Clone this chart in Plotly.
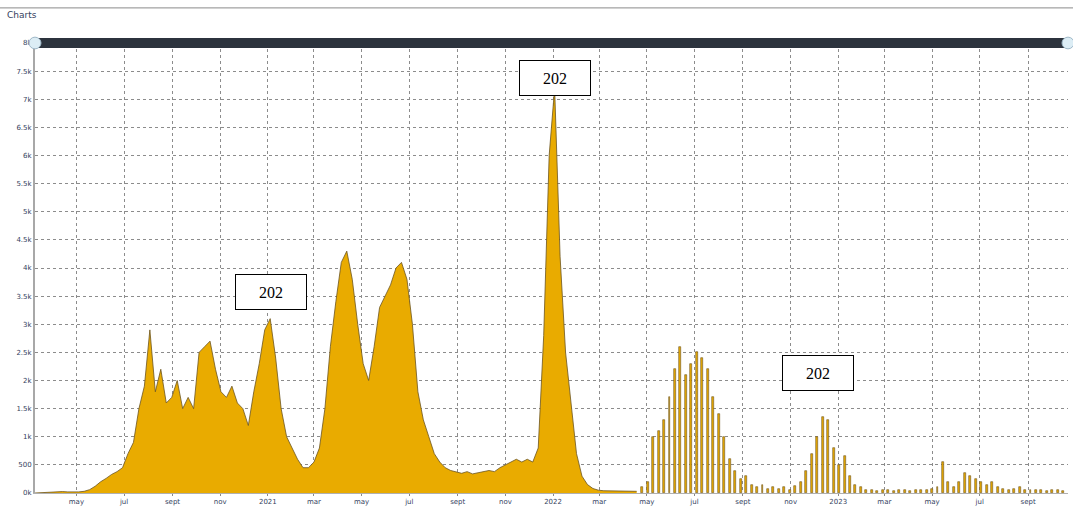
import pandas as pd
import plotly.graph_objects as go

# weekly values, continuous period (starts 2020-03-09)
wave_start = "2020-03-09"
wave_values = [
    0, 5, 10, 20, 30, 25, 20, 15, 20, 30,
    60, 120, 200, 260, 330, 380, 450, 700, 900, 1500,
    1900, 2900, 1800, 2200, 1600, 1700, 2000, 1500, 1700, 1500,
    2500, 2600, 2700, 2200, 1800, 1700, 1900, 1600, 1500, 1200,
    1800, 2300, 2900, 3100, 2400, 1500, 1000, 800, 600, 450,
    450, 550, 800, 1500, 2600, 3400, 4100, 4300, 3800, 3000,
    2300, 2000, 2600, 3300, 3500, 3700, 4000, 4100, 3800, 3000,
    1800, 1300, 1000, 700, 550, 450, 400, 380, 350, 380,
    340, 360, 380, 400, 380, 450, 500, 550, 600, 550,
    600, 550, 800, 2800, 6000, 7200, 4200, 2500, 1600, 700,
    300, 150, 80, 50, 40, 40, 30, 30, 30, 30, 30,
]

# weekly reports afterwards (starts 2022-04-25)
report_start = "2022-04-25"
report_values = [
    100, 200, 1000, 1100, 1300, 1700, 2200, 2600, 2100, 2300,
    2500, 2400, 2200, 1700, 1400, 1000, 600, 400, 250, 300,
    150, 100, 150, 80, 100, 80, 100, 60, 120, 200,
    400, 700, 1000, 1350, 1300, 800, 500, 650, 300, 150,
    100, 60, 50, 40, 60, 50, 40, 60, 50, 40,
    50, 60, 50, 80, 100, 550, 200, 100, 200, 350,
    300, 250, 200, 150, 200, 100, 80, 60, 80, 100,
    60, 50, 60, 50, 40, 60, 50, 40,
]

x_tick_dates = [
    "2020-05-01", "2020-07-01", "2020-09-01", "2020-11-01", "2021-01-01",
    "2021-03-01", "2021-05-01", "2021-07-01", "2021-09-01", "2021-11-01",
    "2022-01-01", "2022-03-01", "2022-05-01", "2022-07-01", "2022-09-01",
    "2022-11-01", "2023-01-01", "2023-03-01", "2023-05-01", "2023-07-01",
    "2023-09-01",
]
x_tick_text = [
    "may", "jul", "sept", "nov", "2021", "mar", "may", "jul", "sept", "nov",
    "2022", "mar", "may", "jul", "sept", "nov", "2023", "mar", "may", "jul", "sept",
]
y_tick_vals = list(range(0, 8001, 500))
y_tick_text = ["0k", "500", "1k", "1.5k", "2k", "2.5k", "3k", "3.5k", "4k",
               "4.5k", "5k", "5.5k", "6k", "6.5k", "7k", "7.5k", "8k"]

# callout boxes: (date, value, text)
callouts = [
    ("2021-01-05", 3570, "202"),
    ("2022-01-04", 7380, "202"),
    ("2022-12-06", 2130, "202"),
]

GOLD = "#E9AB00"
EDGE = "#6b5420"
NAVY = "#34425e"

wave_dates = pd.date_range(wave_start, periods=len(wave_values), freq="7D")
report_dates = pd.date_range(report_start, periods=len(report_values), freq="7D")

fig = go.Figure()
fig.add_trace(go.Scatter(
    x=wave_dates, y=wave_values, mode="lines", fill="tozeroy",
    fillcolor=GOLD, line=dict(color=EDGE, width=0.8), showlegend=False,
))
fig.add_trace(go.Bar(
    x=report_dates, y=report_values, width=2.5 * 86400000,
    marker=dict(color=GOLD, line=dict(color=EDGE, width=0.6)), showlegend=False,
))

for d, v, t in callouts:
    fig.add_annotation(
        x=d, y=v, text=t, showarrow=False, width=68, height=32,
        bgcolor="white", bordercolor="black", borderwidth=1,
        font=dict(family="Liberation Serif", size=16, color="black"),
    )

# title and header decorations
fig.add_annotation(x=-0.029, y=1.062, xref="paper", yref="paper", text="Charts",
                   showarrow=False, xanchor="left", yanchor="middle",
                   font=dict(size=9, color=NAVY, family="DejaVu Sans"))
fig.add_shape(type="line", xref="paper", yref="paper", x0=-0.034, x1=1.005,
              y0=1.078, y1=1.078, line=dict(color="#8a8a8a", width=1))
fig.add_shape(type="rect", xref="paper", yref="paper", x0=0, x1=1,
              y0=0.989, y1=1.011, fillcolor="#2c333d", line_width=0, layer="above")
for xp in (0, 1):
    fig.add_shape(type="circle", xref="paper", yref="paper",
                  x0=xp - 0.0058, x1=xp + 0.0058, y0=0.987, y1=1.013,
                  fillcolor="#dcedf5", line=dict(color="#9fb8c8", width=1), layer="above")

fig.update_layout(
    width=1073, height=506,
    margin=dict(l=35, r=5, t=43, b=13),
    plot_bgcolor="white", paper_bgcolor="white",
    bargap=0,
    font=dict(family="DejaVu Sans", size=7, color=NAVY),
    xaxis=dict(
        type="date", range=["2020-03-09", "2023-10-22"],
        tickvals=x_tick_dates, ticktext=x_tick_text,
        showgrid=True, gridcolor="#8c8c8c", griddash="dot", gridwidth=1,
        ticks="outside", ticklen=2, tickcolor="#888",
        showline=True, linecolor="#b0b0b0", linewidth=1,
        tickfont=dict(size=7, color=NAVY), automargin=False,
    ),
    yaxis=dict(
        range=[0, 8000], tickvals=y_tick_vals, ticktext=y_tick_text,
        showgrid=True, gridcolor="#8c8c8c", griddash="dot", gridwidth=1,
        showline=True, linecolor="#a8a8a8", linewidth=2,
        zeroline=False, ticks="", tickfont=dict(size=7, color=NAVY),
        automargin=False,
    ),
)

fig.write_html("out.html", config={"displayModeBar": False},
               post_script="document.body.style.margin='0';")
